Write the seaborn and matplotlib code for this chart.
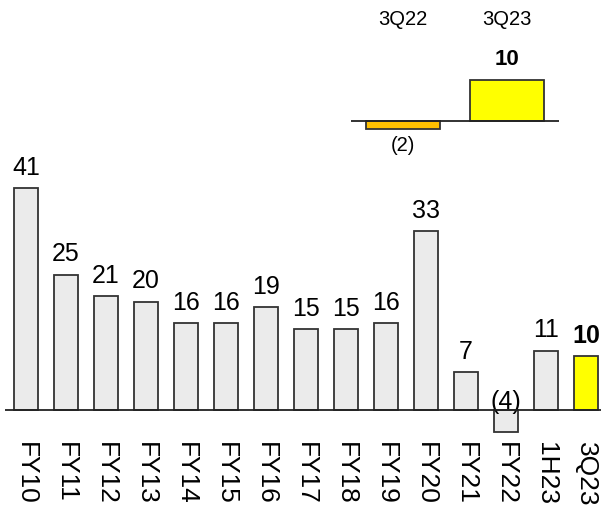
import pandas as pd
import seaborn as sns
import matplotlib.pyplot as plt

# datos principales
periodos = ['FY10', 'FY11', 'FY12', 'FY13', 'FY14', 'FY15', 'FY16', 'FY17',
            'FY18', 'FY19', 'FY20', 'FY21', 'FY22', '1H23', '3Q23']
valores = [41, 25, 21, 20, 16, 16, 19, 15, 15, 16, 33, 7, -4, 11, 10]
colores = ['#EBEBEB'] * 14 + ['#FFFF00']

# datos del recuadro trimestral
trimestres = ['3Q22', '3Q23']
valores_q = [-2, 10]
colores_q = ['#FFC000', '#FFFF00']

sns.set_theme(style='white')
plt.rcParams['font.family'] = ['Liberation Sans', 'DejaVu Sans']
plt.rcParams['text.color'] = 'black'
plt.rcParams['xtick.color'] = 'black'

df = pd.DataFrame({'Periodo': periodos, 'Valor': valores})
dfq = pd.DataFrame({'Trimestre': trimestres, 'Valor': valores_q})

fig = plt.figure(figsize=(6.01, 5.11), dpi=100)

# grafico principal
ax = fig.add_axes([5 / 601, 0.1487, 596 / 601, 285 / 511])
sns.barplot(data=df, x='Periodo', y='Valor', hue='Periodo',
            palette=colores, legend=False, width=0.6, saturation=1,
            edgecolor='#333333', linewidth=1.3, ax=ax)
ax.set_xlim(-0.525, 14.375)
ax.set_ylim(-4.62, 48.06)
ax.axhline(0, color='#222222', linewidth=1.3, zorder=5)
for s in ax.spines.values():
    s.set_visible(False)
ax.set_yticks([])
ax.set_xlabel('')
ax.set_ylabel('')
ax.tick_params(axis='x', length=0, pad=5)
ax.set_xticks(range(len(periodos)))
ax.set_xticklabels(periodos, rotation=270, fontsize=19, va='top', ha='center',
                   color='black')

for i, v in enumerate(valores):
    peso = 'bold' if periodos[i] == '3Q23' else 'normal'
    if v >= 0:
        ax.annotate(str(v), (i, v), xytext=(0, 6), textcoords='offset points',
                    ha='center', va='bottom', fontsize=18, fontweight=peso)
    else:
        ax.annotate('(%d)' % abs(v), (i, 0), xytext=(0, -3), textcoords='offset points',
                    ha='center', va='bottom', fontsize=18, fontweight=peso)

# recuadro
axq = fig.add_axes([351 / 601, 0.726, 208 / 601, 70 / 511])
sns.barplot(data=dfq, x='Trimestre', y='Valor', hue='Trimestre',
            palette=colores_q, legend=False, width=0.72, saturation=1,
            edgecolor='#333333', linewidth=1.3, ax=axq)
axq.set_xlim(-0.5, 1.5)
axq.set_ylim(-4.63, 12.4)
axq.axhline(0, color='#222222', linewidth=1.3, zorder=5)
for s in axq.spines.values():
    s.set_visible(False)
axq.set_xticks([])
axq.set_yticks([])
axq.set_xlabel('')
axq.set_ylabel('')
axq.patch.set_alpha(0)

for i, (t, v) in enumerate(zip(trimestres, valores_q)):
    axq.annotate(t, (i, (511 - 19.5) / 511), xycoords=('data', 'figure fraction'),
                 ha='center', va='center', fontsize=14.5)
    if v >= 0:
        axq.annotate(str(v), (i, v), xytext=(0, 7), textcoords='offset points',
                     ha='center', va='bottom', fontsize=16, fontweight='bold')
    else:
        axq.annotate('(%d)' % abs(v), (i, v), xytext=(0, -5), textcoords='offset points',
                     ha='center', va='top', fontsize=14.5)

plt.savefig('out.png', dpi=100)
